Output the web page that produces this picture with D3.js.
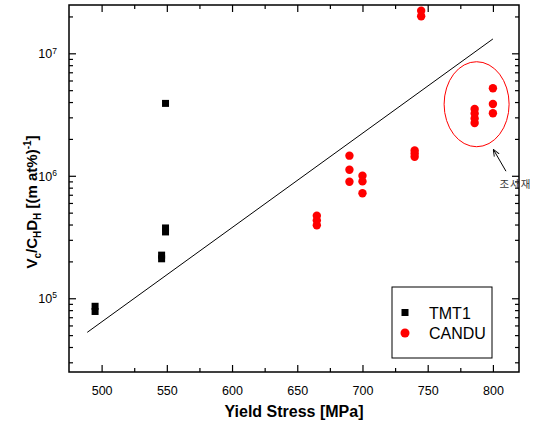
<!DOCTYPE html>
<html lang="en">
<head>
    <meta charset="UTF-8">
    <title>Yield stress vs Vc/CHDH</title>
    <script src="https://d3js.org/d3.v7.min.js"></script>
    <style>
        body { margin: 0; background: #fff; }
        svg { display: block; font-family: "Liberation Sans", Arial, sans-serif; }
        .tick text { font-size: 12.5px; fill: #000; }
    </style>
</head>
<body>
<svg width="534" height="428"></svg>
<script>
    // TMT1 (black squares)
    const tmtStress = [495, 495, 546, 546, 549, 549, 549];
    const tmtValue = [8.6e4, 7.8e4, 2.1e5, 2.25e5, 3.48e5, 3.75e5, 3.9e6];

    // CANDU (red circles)
    const canduStress = [665, 665, 665, 690, 690, 690, 700, 700, 700, 740, 740, 740, 745, 745,
                         786, 786, 786, 786, 800, 800, 800];
    const canduValue = [4.72e5, 4.31e5, 3.94e5, 1.46e6, 1.12e6, 8.93e5, 1.0e6, 9.0e5, 7.2e5,
                        1.61e6, 1.52e6, 1.43e6, 2.23e7, 2.01e7,
                        3.51e6, 3.23e6, 2.94e6, 2.70e6, 5.18e6, 3.86e6, 3.24e6];

    // fitted line end points
    const fitStress = [489, 800];
    const fitValue = [5.27e4, 1.31e7];

    const xTicks = [500, 550, 600, 650, 700, 750, 800];
    const xMinor = [525, 575, 625, 675, 725, 775];
    const yTicks = [1e5, 1e6, 1e7];

    const margin = {top: 5, right: 15, bottom: 56, left: 69};
    const W = 534, H = 428;
    const w = W - margin.left - margin.right;
    const h = H - margin.top - margin.bottom;

    const svg = d3.select("svg");
    const g = svg.append("g").attr("transform", `translate(${margin.left},${margin.top})`);

    const x = d3.scaleLinear().domain([475, 820]).range([0, w]);
    const y = d3.scaleLog().domain([2.5e4, 2.48e7]).range([h, 0]);

    // minor log ticks
    const yMinor = [];
    [1e4, 1e5, 1e6, 1e7].forEach(d => {
        for (let k = 2; k <= 9; k++) {
            const v = d * k;
            if (v >= y.domain()[0] && v <= y.domain()[1]) yMinor.push(v);
        }
    });

    function styleAxis(sel) {
        sel.select(".domain").remove();
        sel.selectAll(".tick line").attr("stroke", "#000").attr("stroke-width", 1.2);
    }

    // bottom
    g.append("g").attr("transform", `translate(0,${h})`)
        .call(d3.axisBottom(x).tickValues(xTicks).tickSize(-7).tickPadding(14).tickFormat(d3.format("d")))
        .call(styleAxis);
    g.append("g").attr("transform", `translate(0,${h})`)
        .call(d3.axisBottom(x).tickValues(xMinor).tickSize(-4).tickFormat(""))
        .call(styleAxis);
    // top
    g.append("g")
        .call(d3.axisTop(x).tickValues(xTicks).tickSize(-7).tickFormat(""))
        .call(styleAxis);
    g.append("g")
        .call(d3.axisTop(x).tickValues(xMinor).tickSize(-4).tickFormat(""))
        .call(styleAxis);
    // left
    const yAxisL = g.append("g")
        .call(d3.axisLeft(y).tickValues(yTicks).tickSize(-7).tickPadding(14).tickFormat(""))
        .call(styleAxis);
    yAxisL.selectAll(".tick").append("text")
        .attr("x", -12).attr("dy", "0.35em").attr("text-anchor", "end")
        .attr("fill", "#000").style("font-size", "12.5px")
        .each(function (d) {
            const t = d3.select(this);
            t.append("tspan").text("10");
            t.append("tspan").attr("dy", "-0.55em").style("font-size", "8.5px")
                .text(Math.round(Math.log10(d)));
        });
    g.append("g")
        .call(d3.axisLeft(y).tickValues(yMinor).tickSize(-4).tickFormat(""))
        .call(styleAxis);
    // right
    g.append("g").attr("transform", `translate(${w},0)`)
        .call(d3.axisRight(y).tickValues(yTicks).tickSize(-7).tickFormat(""))
        .call(styleAxis);
    g.append("g").attr("transform", `translate(${w},0)`)
        .call(d3.axisRight(y).tickValues(yMinor).tickSize(-4).tickFormat(""))
        .call(styleAxis);

    // frame
    g.append("rect").attr("width", w).attr("height", h)
        .attr("fill", "none").attr("stroke", "#000").attr("stroke-width", 1.5);

    // fit line
    g.append("line")
        .attr("x1", x(fitStress[0])).attr("y1", y(fitValue[0]))
        .attr("x2", x(fitStress[1])).attr("y2", y(fitValue[1]))
        .attr("stroke", "#000").attr("stroke-width", 1);

    // TMT1 squares
    const sq = 7;
    g.selectAll(".tmt").data(tmtStress).join("rect")
        .attr("class", "tmt")
        .attr("x", d => x(d) - sq / 2)
        .attr("y", (d, i) => y(tmtValue[i]) - sq / 2)
        .attr("width", sq).attr("height", sq)
        .attr("fill", "#000");

    // CANDU circles
    g.selectAll(".candu").data(canduStress).join("circle")
        .attr("class", "candu")
        .attr("cx", d => x(d))
        .attr("cy", (d, i) => y(canduValue[i]))
        .attr("r", 4.2)
        .attr("fill", "#ff0000");

    // ellipse around the irradiated group
    g.append("ellipse")
        .attr("cx", x(787.5)).attr("cy", y(3.84e6))
        .attr("rx", 32.5).attr("ry", 42.5)
        .attr("fill", "none").attr("stroke", "#ff0000").attr("stroke-width", 1);

    // arrow + note
    svg.append("defs").append("marker")
        .attr("id", "ah").attr("viewBox", "0 0 10 10")
        .attr("refX", 9).attr("refY", 5)
        .attr("markerWidth", 7).attr("markerHeight", 7)
        .attr("orient", "auto")
        .append("path").attr("d", "M0,1 L10,5 L0,9").attr("fill", "none")
        .attr("stroke", "#000").attr("stroke-width", 1.3);
    g.append("line")
        .attr("x1", x(810)).attr("y1", y(1.09e6))
        .attr("x2", x(800.5)).attr("y2", y(1.63e6))
        .attr("stroke", "#000").attr("stroke-width", 1)
        .attr("marker-end", "url(#ah)");
    g.append("text")
        .attr("x", x(805)).attr("y", y(1.09e6) + 17)
        .attr("fill", "#333").style("font-size", "10.5px")
        .style("font-family", "'Noto Sans CJK KR', sans-serif")
        .style("letter-spacing", "1px")
        .text("조사재");

    // legend
    const lg = g.append("g").attr("transform", `translate(${392 - margin.left},${287 - margin.top})`);
    lg.append("rect").attr("width", 100).attr("height", 71)
        .attr("fill", "#fff").attr("stroke", "#000").attr("stroke-width", 1);
    lg.append("rect").attr("x", 13 - sq / 2).attr("y", 25.5 - sq / 2)
        .attr("width", sq).attr("height", sq).attr("fill", "#000");
    lg.append("circle").attr("cx", 13).attr("cy", 46).attr("r", 4.5).attr("fill", "#ff0000");
    lg.append("text").attr("x", 37).attr("y", 31.5).style("font-size", "16px").text("TMT1");
    lg.append("text").attr("x", 37).attr("y", 52).style("font-size", "16px").text("CANDU");

    // axis titles
    svg.append("text")
        .attr("x", margin.left + w / 2).attr("y", 417)
        .attr("text-anchor", "middle")
        .style("font-size", "16px").style("font-weight", "bold")
        .text("Yield Stress [MPa]");

    const yl = svg.append("text")
        .attr("transform", "translate(37,202) rotate(-90)")
        .attr("text-anchor", "middle")
        .style("font-size", "15px").style("font-weight", "bold");
    yl.append("tspan").text("V");
    yl.append("tspan").attr("dy", 4).style("font-size", "10px").text("c");
    yl.append("tspan").attr("dy", -4).text("/C");
    yl.append("tspan").attr("dy", 4).style("font-size", "10px").text("H");
    yl.append("tspan").attr("dy", -4).text("D");
    yl.append("tspan").attr("dy", 4).style("font-size", "10px").text("H");
    yl.append("tspan").attr("dy", -4).text(" [(m at%)");
    yl.append("tspan").attr("dy", -6).style("font-size", "10px").text("-1");
    yl.append("tspan").attr("dy", 6).text("]");
</script>
</body>
</html>
